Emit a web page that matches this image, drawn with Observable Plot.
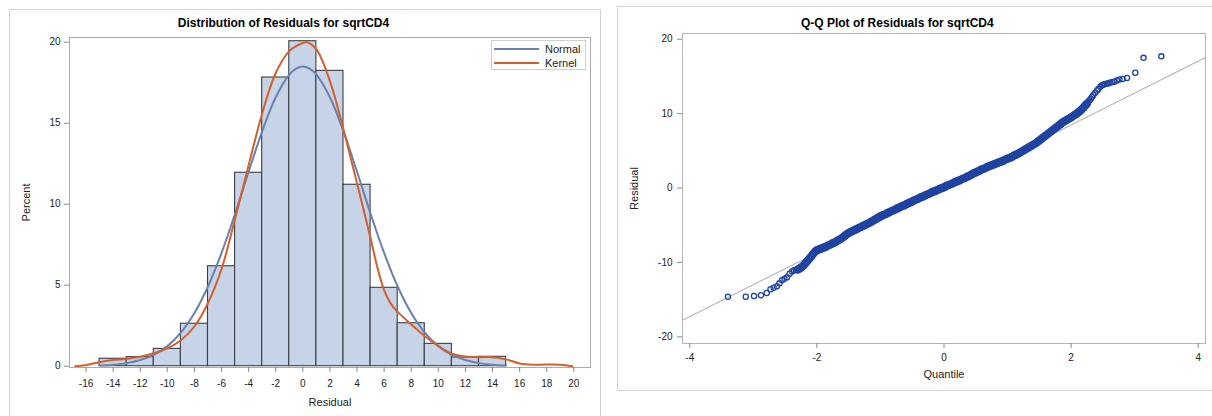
<!DOCTYPE html>
<html>
<head>
<meta charset="utf-8">
<script src="https://cdn.jsdelivr.net/npm/d3@7"></script>
<script src="https://cdn.jsdelivr.net/npm/@observablehq/plot@0.6"></script>
<style>
  body { margin: 0; background: #fff; }
  #root { position: relative; width: 1212px; height: 416px; overflow: hidden; background: #fff;
          font-family: "Liberation Sans", Arial, Helvetica, sans-serif; }
  .holder { position: absolute; top: 0; }
  .panel { position: absolute; border: 1px solid #d2d2d2; box-sizing: border-box; pointer-events: none; }
  .legend { position: absolute; border: 1px solid #cfcfcf; background: #fff; box-sizing: border-box; }
</style>
</head>
<body>
<div id="root"></div>
<script>
// ---------------- Histogram data ----------------
const binLeft    = [-15, -13, -11, -9, -7, -5, -3, -1, 1, 3, 5, 7, 9, 11, 13];
const binWidth   = 2;
const binPercent = [0.46, 0.56, 1.07, 2.62, 6.17, 11.94, 17.82, 20.06, 18.23, 11.2, 4.84, 2.65, 1.38, 0.54, 0.58];

const normalX = [-15, -14, -13, -12, -11, -10, -9, -8, -7, -6, -5, -4, -3, -2, -1, -0.5, 0, 0.5, 1, 2, 3, 4, 5, 6, 7, 8, 9, 10, 11, 12, 13, 14, 15];
const normalY = [0.04, 0.09, 0.19, 0.38, 0.70, 1.24, 2.07, 3.28, 4.92, 6.99, 9.41, 12.0, 14.5, 16.6, 18.0, 18.37, 18.5, 18.37, 18.0, 16.6, 14.5, 12.0, 9.41, 6.99, 4.92, 3.28, 2.07, 1.24, 0.70, 0.38, 0.19, 0.09, 0.04];

const kernelX = [-16.8, -16, -15, -14, -13, -12, -11, -10, -9, -8, -7, -6, -5, -4, -3, -2, -1, 0, 0.3, 1, 2, 3, 4, 5, 5.5, 6, 6.5, 7, 8, 9, 10, 11, 12, 13, 14, 15, 16, 17, 18, 19, 19.9];
const kernelY = [0.0, 0.08, 0.25, 0.38, 0.45, 0.58, 0.8, 1.1, 1.6, 2.45, 3.9, 6.0, 9.1, 12.4, 15.6, 18.1, 19.45, 19.95, 20.0, 19.55, 17.6, 14.6, 11.3, 7.9, 6.1, 4.7, 3.85, 3.35, 2.58, 1.85, 1.25, 0.78, 0.6, 0.56, 0.56, 0.42, 0.17, 0.09, 0.1, 0.09, 0.0];

const histXTicks = [-16, -14, -12, -10, -8, -6, -4, -2, 0, 2, 4, 6, 8, 10, 12, 14, 16, 18, 20];
const histYTicks = [0, 5, 10, 15, 20];
const legendLabels = ["Normal", "Kernel"];

// ---------------- Q-Q data ----------------
const qqQuantile = [
  -3.40, -3.12, -2.99, -2.88, -2.79, -2.73, -2.68, -2.63, -2.59, -2.55, -2.51, -2.47, -2.43, -2.39, -2.36, -2.33,
  -2.30, -2.27, -2.24, -2.21, -2.18, -2.15, -2.12, -2.09, -2.06, -2.03, -2.00, -1.97, -1.94, -1.91, -1.88, -1.85,
  -1.82, -1.79, -1.76, -1.73, -1.70, -1.67, -1.64, -1.61, -1.58, -1.55, -1.52, -1.49, -1.46, -1.43, -1.40, -1.37,
  -1.34, -1.31, -1.28, -1.25, -1.22, -1.19, -1.16, -1.13, -1.10, -1.07, -1.04, -1.01, -0.98, -0.95, -0.92, -0.89,
  -0.86, -0.83, -0.80, -0.77, -0.74, -0.71, -0.68, -0.65, -0.62, -0.59, -0.56, -0.53, -0.50, -0.47, -0.44, -0.41,
  -0.38, -0.35, -0.32, -0.29, -0.26, -0.23, -0.20, -0.17, -0.14, -0.11, -0.08, -0.05, -0.02, 0.01, 0.04, 0.07,
  0.10, 0.13, 0.16, 0.19, 0.22, 0.25, 0.28, 0.31, 0.34, 0.37, 0.40, 0.43, 0.46, 0.49, 0.52, 0.55,
  0.58, 0.61, 0.64, 0.67, 0.70, 0.73, 0.76, 0.79, 0.82, 0.85, 0.88, 0.91, 0.94, 0.97, 1.00, 1.03,
  1.06, 1.09, 1.12, 1.15, 1.18, 1.21, 1.24, 1.27, 1.30, 1.33, 1.36, 1.39, 1.42, 1.45, 1.48, 1.51,
  1.54, 1.57, 1.60, 1.63, 1.66, 1.69, 1.72, 1.75, 1.78, 1.81, 1.84, 1.87, 1.90, 1.93, 1.96, 1.99,
  2.02, 2.05, 2.08, 2.11, 2.14, 2.17, 2.20, 2.23, 2.25, 2.27, 2.29, 2.31, 2.33, 2.35, 2.38, 2.41,
  2.43, 2.46, 2.49, 2.51, 2.54, 2.57, 2.59, 2.62, 2.65, 2.68, 2.72, 2.76, 2.81, 2.88, 3.01, 3.14, 3.42
];
const qqResidual = [
  -14.6, -14.6, -14.5, -14.4, -14.1, -13.6, -13.4, -13.2, -12.8, -12.4, -12.2, -12.0, -11.5, -11.2, -11.05, -11.0,
  -10.95, -10.8, -10.6, -10.4, -10.1, -9.8, -9.5, -9.2, -8.85, -8.55, -8.35, -8.25, -8.15, -8.05, -7.95, -7.85,
  -7.7, -7.6, -7.45, -7.35, -7.2, -7.05, -6.9, -6.75, -6.55, -6.35, -6.15, -6.0, -5.85, -5.75, -5.6, -5.5,
  -5.35, -5.25, -5.1, -5.0, -4.85, -4.75, -4.6, -4.45, -4.3, -4.15, -4.0, -3.85, -3.7, -3.6, -3.5, -3.35,
  -3.25, -3.1, -3.0, -2.9, -2.75, -2.65, -2.5, -2.4, -2.3, -2.15, -2.05, -1.9, -1.8, -1.65, -1.55, -1.45,
  -1.3, -1.2, -1.1, -0.95, -0.85, -0.75, -0.6, -0.5, -0.4, -0.3, -0.15, -0.05, 0.05, 0.15, 0.3, 0.4,
  0.5, 0.6, 0.75, 0.85, 0.95, 1.05, 1.2, 1.3, 1.4, 1.55, 1.65, 1.8, 1.95, 2.05, 2.2, 2.3,
  2.45, 2.55, 2.65, 2.8, 2.9, 3.0, 3.1, 3.2, 3.3, 3.4, 3.5, 3.6, 3.7, 3.85, 3.95, 4.05,
  4.15, 4.3, 4.45, 4.55, 4.7, 4.85, 5.0, 5.15, 5.3, 5.45, 5.6, 5.75, 5.9, 6.05, 6.25, 6.45,
  6.65, 6.85, 7.05, 7.25, 7.45, 7.65, 7.85, 8.05, 8.25, 8.45, 8.65, 8.85, 9.0, 9.15, 9.3, 9.45,
  9.6, 9.8, 9.95, 10.15, 10.35, 10.6, 10.85, 11.15, 11.35, 11.6, 11.8, 12.0, 12.25, 12.5, 12.8, 13.1,
  13.3, 13.6, 13.8, 13.9, 14.0, 14.05, 14.1, 14.2, 14.25, 14.3, 14.45, 14.6, 14.65, 14.8, 15.5, 17.5, 17.7
];
// fitted reference line (location, scale)
const refQuantile = [-4.3, 4.3];
const refResidual = [-18.56, 18.34];

const qqXTicks = [-4, -2, 0, 2, 4];
const qqYTicks = [-20, -10, 0, 10, 20];

// ---------------- tables ----------------
const bins = binLeft.map((x, i) => ({x1: x, x2: x + binWidth, pct: binPercent[i]}));
const normal = normalX.map((x, i) => ({x, y: normalY[i]}));
const kernel = kernelX.map((x, i) => ({x, y: kernelY[i]}));
const qq = qqQuantile.map((q, i) => ({q, r: qqResidual[i]}));
const ref = refQuantile.map((q, i) => ({q, r: refResidual[i]}));
// dense central band vs sparse tails (tails drawn with thinner rings)
const qqDense = qq.filter(d => d.q > -2.32 && d.q < 2.26);
const qqSparse = qq.filter(d => !(d.q > -2.32 && d.q < 2.26));

const FONT = "'Liberation Sans', Arial, Helvetica, sans-serif";
const TXT = "#222";
const NORMAL_C = "#6882ad";
const KERNEL_C = "#d3602c";
const QQ_C = "#1f43a1";
const fmt = d => String(d);   // plain hyphen minus, as in the reference

const root = document.getElementById("root");

// ---------------- Left: histogram ----------------
const hist = Plot.plot({
  width: 606, height: 416,
  marginLeft: 69, marginRight: 16, marginTop: 37, marginBottom: 49,
  style: {fontFamily: FONT, fontSize: "10px", color: TXT, background: "transparent", overflow: "visible"},
  x: {domain: [-17.22, 21.23]},
  y: {domain: [-0.08, 20.29]},
  marks: [
    Plot.rectY(bins, {x1: "x1", x2: "x2", y: "pct", fill: "#c7d3e6", stroke: "#3b3f45", strokeWidth: 1.1}),
    Plot.line(normal, {x: "x", y: "y", stroke: NORMAL_C, strokeWidth: 2, curve: "catmull-rom"}),
    Plot.line(kernel, {x: "x", y: "y", stroke: KERNEL_C, strokeWidth: 2, curve: "catmull-rom"}),
    Plot.frame({stroke: "#ababab"}),
    Plot.axisX({ticks: histXTicks, tickFormat: fmt, tickSize: 5, tickPadding: 7, stroke: "#8a8a8a", fill: TXT, label: null, fontSize: 10}),
    Plot.axisY({ticks: histYTicks, tickFormat: fmt, tickSize: 5, tickPadding: 4, stroke: "#8a8a8a", fill: TXT, label: null, fontSize: 10}),
    Plot.text(["Distribution of Residuals for sqrtCD4"], {frameAnchor: "top", dx: -46.5, dy: -14.3, lineAnchor: "middle", textAnchor: "middle", fontWeight: "bold", fontSize: 12, fill: "#000"}),
    Plot.text(["Percent"], {frameAnchor: "left", dx: -43, rotate: -90, lineAnchor: "middle", textAnchor: "middle", fontSize: 11, fill: TXT}),
    Plot.text(["Residual"], {frameAnchor: "bottom", dy: 35, lineAnchor: "middle", textAnchor: "middle", fontSize: 11, fill: TXT})
  ]
});

// ---------------- Right: Q-Q plot ----------------
const qqPlot = Plot.plot({
  width: 606, height: 416,
  marginLeft: 76, marginRight: 7, marginTop: 33, marginBottom: 73,
  style: {fontFamily: FONT, fontSize: "10px", color: TXT, background: "transparent", overflow: "visible"},
  x: {domain: [-4.115, 4.115]},
  y: {domain: [-20.89, 20.77]},
  marks: [
    Plot.line(ref, {x: "q", y: "r", stroke: "#a9a9a9", strokeWidth: 1, clip: true}),
    Plot.dot(qqDense, {x: "q", y: "r", r: 3, stroke: QQ_C, strokeWidth: 2.4, fill: "none"}),
    Plot.dot(qqSparse, {x: "q", y: "r", r: 2.6, stroke: QQ_C, strokeWidth: 1.3, fill: "none"}),
    Plot.frame({stroke: "#b3b3b3"}),
    Plot.axisX({ticks: qqXTicks, tickFormat: fmt, tickSize: 5, tickPadding: 5, stroke: "#8a8a8a", fill: TXT, label: null, fontSize: 10}),
    Plot.axisY({ticks: qqYTicks, tickFormat: fmt, tickSize: 5, tickPadding: 5, stroke: "#8a8a8a", fill: TXT, label: null, fontSize: 10}),
    Plot.text(["Q-Q Plot of Residuals for sqrtCD4"], {frameAnchor: "top", dx: -46.7, dy: -10.5, lineAnchor: "middle", textAnchor: "middle", fontWeight: "bold", fontSize: 12, fill: "#000"}),
    Plot.text(["Residual"], {frameAnchor: "left", dx: -47.7, rotate: -90, lineAnchor: "middle", textAnchor: "middle", fontSize: 11, fill: TXT}),
    Plot.text(["Quantile"], {frameAnchor: "bottom", dy: 31, lineAnchor: "middle", textAnchor: "middle", fontSize: 11, fill: TXT})
  ]
});

const h1 = document.createElement("div");
h1.className = "holder"; h1.style.left = "0px"; h1.style.width = "606px";
h1.appendChild(hist);
root.appendChild(h1);

const h2 = document.createElement("div");
h2.className = "holder"; h2.style.left = "606px"; h2.style.width = "606px";
h2.appendChild(qqPlot);
root.appendChild(h2);

// panel borders
const p1 = document.createElement("div");
p1.className = "panel";
Object.assign(p1.style, {left: "9px", top: "9px", width: "592px", height: "420px"});
root.appendChild(p1);
const p2 = document.createElement("div");
p2.className = "panel";
Object.assign(p2.style, {left: "617px", top: "6px", width: "610px", height: "385px"});
root.appendChild(p2);

// legend (inside histogram)
const lg = document.createElement("div");
lg.className = "legend";
Object.assign(lg.style, {left: "491px", top: "40px", width: "95px", height: "30px"});
const colors = [NORMAL_C, KERNEL_C];
const lsvg = d3.create("svg").attr("width", 95).attr("height", 30).style("display", "block");
legendLabels.forEach((lab, i) => {
  const y = 8 + i * 14;
  lsvg.append("line").attr("x1", 2).attr("x2", 47).attr("y1", y).attr("y2", y)
      .attr("stroke", colors[i]).attr("stroke-width", 2);
  lsvg.append("text").attr("x", 53).attr("y", y).attr("dy", "0.35em")
      .attr("font-family", FONT).attr("font-size", 11).attr("fill", TXT).text(lab);
});
lg.appendChild(lsvg.node());
root.appendChild(lg);
</script>
</body>
</html>
